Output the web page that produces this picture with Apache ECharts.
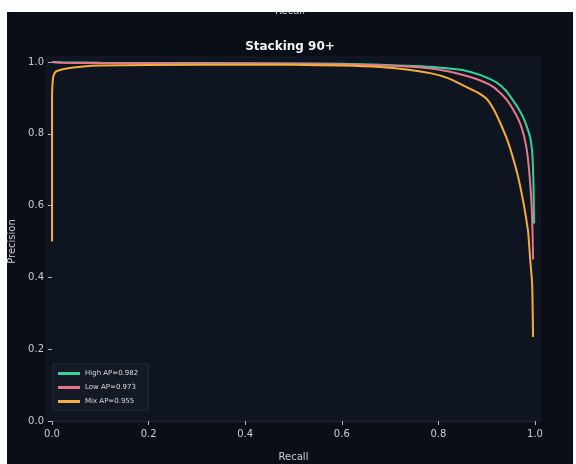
<!DOCTYPE html>
<html>
<head>
<meta charset="utf-8">
<script src="https://cdn.jsdelivr.net/npm/echarts@6/dist/echarts.min.js"></script>
<style>
  html, body { margin: 0; padding: 0; background: #ffffff; }
  #chart { position: absolute; left: 7px; top: 12px; width: 566px; height: 452px; background: #0a0e17; }
</style>
</head>
<body>
<div id="chart"></div>
<script>
// Precision-recall curves for the "Stacking 90+" model
const seriesNames = ['High AP=0.982', 'Low AP=0.973', 'Mix AP=0.955'];
const seriesColors = ['#33d39b', '#e9778a', '#f6ad3a'];

const highRecall = [0, 0.02, 0.1, 0.3, 0.5, 0.6, 0.68, 0.75, 0.8, 0.85, 0.886, 0.92, 0.94, 0.954, 0.965, 0.975, 0.983, 0.99, 0.994, 0.996, 0.997, 0.998];
const highPrecision = [1.0, 0.999, 0.998, 0.997, 0.996, 0.995, 0.992, 0.989, 0.985, 0.978, 0.964, 0.943, 0.92, 0.894, 0.872, 0.847, 0.82, 0.79, 0.75, 0.70, 0.65, 0.55];

const lowRecall = [0, 0.02, 0.1, 0.3, 0.5, 0.6, 0.68, 0.75, 0.8, 0.851, 0.88, 0.907, 0.925, 0.942, 0.956, 0.969, 0.977, 0.983, 0.987, 0.99, 0.993, 0.995, 0.996];
const lowPrecision = [1.0, 0.998, 0.997, 0.996, 0.995, 0.994, 0.991, 0.986, 0.979, 0.964, 0.952, 0.936, 0.918, 0.894, 0.865, 0.83, 0.795, 0.755, 0.71, 0.663, 0.6, 0.52, 0.45];

const mixRecall = [0, 0, 0.002, 0.005, 0.01, 0.03, 0.06, 0.1, 0.3, 0.5, 0.6, 0.68, 0.73, 0.783, 0.82, 0.851, 0.88, 0.9, 0.915, 0.928, 0.942, 0.954, 0.965, 0.975, 0.981, 0.986, 0.99, 0.994, 0.996];
const mixPrecision = [0.5, 0.9, 0.955, 0.968, 0.975, 0.982, 0.987, 0.99, 0.992, 0.992, 0.99, 0.986, 0.98, 0.969, 0.955, 0.935, 0.916, 0.897, 0.867, 0.83, 0.785, 0.735, 0.68, 0.616, 0.57, 0.524, 0.45, 0.384, 0.234];

function pairs(xs, ys) { return xs.map((x, i) => [x, ys[i]]); }

const curves = [
  pairs(highRecall, highPrecision),
  pairs(lowRecall, lowPrecision),
  pairs(mixRecall, mixPrecision)
];

const chart = echarts.init(document.getElementById('chart'), null, { renderer: 'canvas' });

const gridLeft = 45, gridTop = 50, gridWidth = 483, gridHeight = 359;
const labelColor = '#c9cdd5';
const fontFamily = 'DejaVu Sans, sans-serif';

chart.setOption({
  backgroundColor: '#0a0e17',
  animation: false,
  title: {
    text: 'Stacking 90+',
    left: 'center',
    top: 24,
    textStyle: { color: '#f2f3f5', fontSize: 12, fontWeight: 'bold', fontFamily: fontFamily }
  },
  graphic: [
    // axes panel, slightly wider than the data range
    { type: 'rect', z: -10, silent: true,
      shape: { x: gridLeft - 5, y: gridTop - 5, width: gridWidth + 10, height: gridHeight + 5 },
      style: { fill: '#0f1520', stroke: '#161d2a', lineWidth: 1 } },
    // axis title of the panel above, cut off at the top edge
    { type: 'text', left: 'center', top: -6, silent: true,
      style: { text: 'Recall', fill: labelColor, font: '10px DejaVu Sans, sans-serif' } }
  ],
  grid: { left: gridLeft, top: gridTop, width: gridWidth, height: gridHeight, outerBoundsMode: 'none', containLabel: false },
  legend: {
    orient: 'vertical',
    left: 46,
    top: 352,
    backgroundColor: '#131a26',
    borderColor: '#232b3a',
    borderWidth: 1,
    padding: [6, 10, 5, 5],
    itemGap: 7,
    itemWidth: 22,
    itemHeight: 3,
    icon: 'rect',
    textStyle: { color: '#d8dbe0', fontSize: 7, fontFamily: fontFamily },
    data: seriesNames
  },
  xAxis: {
    type: 'value',
    min: 0, max: 1, interval: 0.2,
    name: 'Recall',
    nameLocation: 'middle',
    nameGap: 31,
    nameTextStyle: { color: labelColor, fontSize: 10, fontFamily: fontFamily },
    axisLine: { show: true, lineStyle: { color: '#1c2432' } },
    axisTick: { show: true, length: 4, lineStyle: { color: '#b0b4bc' } },
    axisLabel: { color: labelColor, fontSize: 10, margin: 8, fontFamily: fontFamily,
      formatter: v => v.toFixed(1) },
    splitLine: { show: false }
  },
  yAxis: {
    type: 'value',
    min: 0, max: 1, interval: 0.2,
    name: 'Precision',
    nameLocation: 'middle',
    nameGap: 32,
    nameTextStyle: { color: labelColor, fontSize: 10, fontFamily: fontFamily },
    axisLine: { show: false },
    axisTick: { show: true, length: 4, lineStyle: { color: '#b0b4bc' } },
    axisLabel: { color: labelColor, fontSize: 10, margin: 8, fontFamily: fontFamily,
      formatter: v => v.toFixed(1) },
    splitLine: { show: false }
  },
  series: curves.map((data, i) => ({
    name: seriesNames[i],
    type: 'line',
    data: data,
    clip: false,
    showSymbol: false,
    smooth: 0.2,
    color: seriesColors[i],
    lineStyle: { width: 2, color: seriesColors[i] },
    z: 2 + i
  }))
});
</script>
</body>
</html>
